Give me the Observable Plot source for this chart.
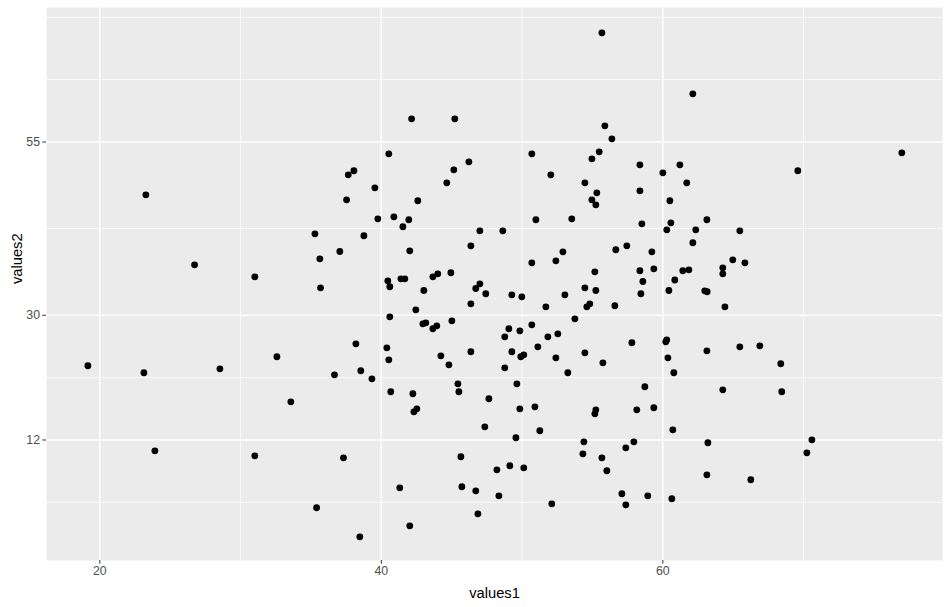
<!DOCTYPE html>
<html><head><meta charset="utf-8">
<script src="https://cdn.jsdelivr.net/npm/d3@7"></script>
<script src="https://cdn.jsdelivr.net/npm/@observablehq/plot@0.6"></script>
<style>body{margin:0;background:#fff}</style>
</head><body><div id="chart"></div>
<script>
const values1 = [23.27,37.65,37.53,35.28,37.05,35.63,26.73,31.01,35.68,55.67,42.15,45.22,55.88,56.38,40.53,50.69,55.48,54.96,58.37,46.22,45.15,38.05,44.65,52.04,54.46,39.54,55.31,58.37,42.59,54.96,55.24,39.75,40.89,41.95,41.53,50.98,53.53,58.51,47.00,48.63,38.76,46.36,42.02,56.66,57.44,59.22,50.69,52.40,52.90,55.17,58.37,58.58,40.46,40.60,41.39,41.67,43.66,44.01,44.94,47.00,46.71,43.02,54.46,55.24,62.13,76.98,69.59,60.00,61.21,61.70,60.50,60.57,60.28,62.34,63.13,65.47,62.13,59.36,60.85,61.42,61.85,64.26,64.26,64.97,65.83,60.43,62.98,63.15,19.15,23.13,28.53,32.58,36.67,33.57,23.91,31.01,37.31,35.40,46.36,47.42,49.27,49.98,51.69,53.04,56.59,58.44,42.45,40.60,42.95,43.16,43.66,43.94,45.01,49.06,48.77,49.84,50.69,51.83,52.54,53.75,54.60,54.81,38.19,40.39,40.53,44.23,44.80,46.36,49.27,48.77,49.91,50.12,51.12,52.40,53.25,54.46,55.74,57.80,38.54,39.33,40.67,42.24,42.31,42.52,45.44,45.51,47.64,49.63,49.84,50.91,47.35,51.26,49.56,55.24,55.17,58.15,58.72,45.65,54.39,54.32,55.67,57.37,57.94,48.21,49.13,50.12,56.02,41.31,45.72,46.71,48.35,52.11,57.09,57.37,58.93,46.86,42.02,38.47,64.41,60.21,60.28,60.36,60.78,63.13,65.47,66.89,68.38,59.36,64.26,68.45,60.71,63.20,70.59,70.23,63.13,66.25,60.64];
const values2 = [47.38,50.27,46.66,41.75,39.20,38.15,37.28,35.55,33.96,70.76,58.35,58.35,57.34,55.46,53.30,53.30,53.59,52.58,51.71,52.14,50.99,50.85,49.11,50.27,49.11,48.39,47.67,47.96,46.52,46.66,45.94,43.92,44.21,43.78,42.77,43.78,43.92,43.20,42.19,42.19,41.47,40.02,39.30,39.45,40.02,39.16,37.57,37.86,39.16,36.27,36.42,34.87,34.97,34.11,35.26,35.26,35.55,35.98,36.13,34.54,33.86,33.57,33.96,33.57,61.96,53.44,50.85,50.56,51.71,49.11,46.52,43.34,42.33,42.33,43.78,42.19,40.46,36.70,35.09,36.42,36.56,36.85,35.98,38.00,37.57,33.57,33.53,33.39,22.71,21.70,22.27,24.01,21.41,17.51,10.44,9.72,9.43,2.22,31.65,33.10,32.95,32.66,31.22,32.95,31.37,33.10,30.79,29.78,28.77,28.91,28.05,28.48,29.20,28.05,26.89,27.76,28.62,26.89,27.32,29.49,31.22,31.65,25.88,25.30,23.57,24.15,22.85,24.73,24.73,22.42,24.01,24.29,25.45,23.86,21.70,24.58,23.14,26.03,21.99,20.83,18.96,18.67,16.07,16.50,20.11,18.96,17.95,20.11,16.50,16.79,13.90,13.33,12.32,16.36,15.78,16.36,19.68,9.58,11.74,10.01,9.43,10.87,11.74,7.70,8.28,7.99,7.56,5.10,5.25,4.67,3.95,2.79,4.24,2.65,3.95,1.35,-0.38,-1.97,31.22,26.17,26.46,23.86,21.70,24.87,25.45,25.59,23.00,16.65,19.24,18.96,13.47,11.60,12.03,10.15,6.98,6.26,3.52];
const xBreaks = [20, 40, 60];
const xMinorBreaks = [30, 50, 70];
const yBreaks = [12, 30, 55];
const yMinorBreaks = [3, 21, 42.5, 64, 73];
const xTitle = "values1";
const yTitle = "values2";

const data = values1.map((v, i) => ({values1: v, values2: values2[i]}));

const chart = Plot.plot({
  width: 950, height: 607,
  marginLeft: 46, marginRight: 8, marginTop: 7, marginBottom: 47,
  style: {fontFamily: "'Liberation Sans', Arial, sans-serif", background: "white"},
  x: {domain: [16.21, 79.87]},
  y: {domain: [-5.39, 74.41]},
  marks: [
    Plot.frame({fill: "#EBEBEB", stroke: null}),
    Plot.ruleX(xMinorBreaks, {stroke: "white", strokeWidth: 0.75}),
    Plot.ruleY(yMinorBreaks, {stroke: "white", strokeWidth: 0.75}),
    Plot.ruleX(xBreaks, {stroke: "white", strokeWidth: 1.4}),
    Plot.ruleY(yBreaks, {stroke: "white", strokeWidth: 1.4}),
    Plot.dot(data, {x: "values1", y: "values2", r: 3.4, fill: "black", stroke: null}),
    Plot.axisX({ticks: xBreaks, tickSize: 3.7, tickPadding: 2.5, fontSize: 12.3, stroke: "#333333", fill: "#4D4D4D", label: null}),
    Plot.axisY({ticks: yBreaks, tickSize: 3.7, tickPadding: 2.8, fontSize: 12.3, stroke: "#333333", fill: "#4D4D4D", label: null}),
    Plot.text([xTitle], {text: d => d, frameAnchor: "bottom", dy: 33, lineAnchor: "middle", fontSize: 14.7, fill: "black"}),
    Plot.text([yTitle], {text: d => d, frameAnchor: "left", dx: -29, rotate: -90, lineAnchor: "middle", fontSize: 14.7, fill: "black"})
  ]
});
document.getElementById("chart").appendChild(chart);
</script>
</body></html>
